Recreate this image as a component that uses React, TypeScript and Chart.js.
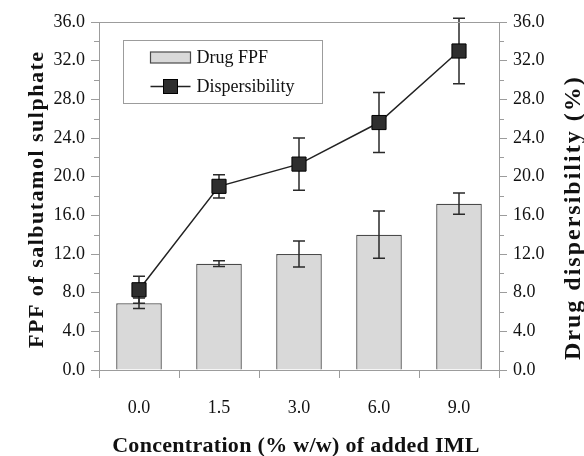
import React, { useEffect, useRef } from 'react';
import { Chart, registerables } from 'chart.js';

Chart.register(...registerables);

// ---- data ----
const categories = ['0.0', '1.5', '3.0', '6.0', '9.0'];
const fpfValues = [6.9, 11.0, 12.0, 14.0, 17.2];
const fpfErrors = [0.55, 0.3, 1.35, 2.45, 1.1];
const dispValues = [8.3, 19.0, 21.3, 25.6, 33.0];
const dispErrors = [1.4, 1.2, 2.7, 3.1, 3.4];
const yMin = 0;
const yMax = 36;
const yMajorStep = 4;
const yMinorStep = 2;
const seriesLabels = ['Drug FPF', 'Dispersibility'];
const xTitle = 'Concentration (% w/w) of added IML';
const yLeftTitle = 'FPF of salbutamol sulphate';
const yRightTitle = 'Drug dispersibility (%)';

// ---- styles ----
const SERIF = "'Liberation Serif', 'Times New Roman', serif";
const AXIS_COLOR = '#9c9c9c';
const INK = '#111111';
const BAR_FILL = '#d9d9d9';
const BAR_EDGE = '#4a4a4a';
const LINE_COLOR = '#222222';
const MARKER_FILL = '#2e2e2e';
const ERR_COLOR = '#2a2a2a';

function drawErrors(chart: any, index: number) {
  const ds = chart.data.datasets[index];
  const errs: number[] | undefined = ds.errors;
  if (!errs) return;
  const meta = chart.getDatasetMeta(index);
  const yScale = chart.scales[meta.yAxisID];
  const ctx: CanvasRenderingContext2D = chart.ctx;
  ctx.save();
  ctx.strokeStyle = ERR_COLOR;
  ctx.lineWidth = 1.5;
  meta.data.forEach((el: any, i: number) => {
    const v = ds.data[i];
    const e = errs[i];
    const x = el.x;
    const yt = yScale.getPixelForValue(v + e);
    const yb = yScale.getPixelForValue(v - e);
    ctx.beginPath();
    ctx.moveTo(x, yt);
    ctx.lineTo(x, yb);
    ctx.moveTo(x - 6, yt);
    ctx.lineTo(x + 6, yt);
    ctx.moveTo(x - 6, yb);
    ctx.lineTo(x + 6, yb);
    ctx.stroke();
  });
  ctx.restore();
}

const errorBarPlugin = {
  id: 'errorBars',
  beforeDatasetDraw(chart: any, args: any) {
    if (chart.data.datasets[args.index].errorsBehind) drawErrors(chart, args.index);
  },
  afterDatasetDraw(chart: any, args: any) {
    if (!chart.data.datasets[args.index].errorsBehind) drawErrors(chart, args.index);
  },
};

const decorPlugin = {
  id: 'decor',
  afterDraw(chart: any) {
    const ctx: CanvasRenderingContext2D = chart.ctx;
    const area = chart.chartArea;
    ctx.save();
    // top frame line
    ctx.strokeStyle = AXIS_COLOR;
    ctx.lineWidth = 1;
    ctx.beginPath();
    ctx.moveTo(area.left, Math.round(area.top) + 0.5);
    ctx.lineTo(area.right, Math.round(area.top) + 0.5);
    ctx.stroke();
    // minor ticks
    const yl = chart.scales.y;
    const yr = chart.scales.y2;
    ctx.beginPath();
    for (let v = yMin; v <= yMax; v += yMinorStep) {
      if (v % yMajorStep === 0) continue;
      const pl = Math.round(yl.getPixelForValue(v)) + 0.5;
      ctx.moveTo(yl.right - 5, pl);
      ctx.lineTo(yl.right, pl);
      const pr = Math.round(yr.getPixelForValue(v)) + 0.5;
      ctx.moveTo(yr.left, pr);
      ctx.lineTo(yr.left + 5, pr);
    }
    ctx.stroke();

    // axis titles
    ctx.fillStyle = INK;
    ctx.font = `bold 22px ${SERIF}`;
    (ctx as any).letterSpacing = '0.3px';
    ctx.textAlign = 'center';
    ctx.textBaseline = 'alphabetic';
    ctx.fillText(xTitle, (area.left + area.right) / 2 - 3, 452);

    ctx.save();
    (ctx as any).letterSpacing = '1.5px';
    ctx.translate(43, 348);
    ctx.rotate(-Math.PI / 2);
    ctx.textAlign = 'left';
    ctx.fillText(yLeftTitle, 0, 0);
    ctx.restore();

    ctx.save();
    ctx.font = `bold 24px ${SERIF}`;
    (ctx as any).letterSpacing = '2px';
    ctx.translate(580, 360);
    ctx.rotate(-Math.PI / 2);
    ctx.textAlign = 'left';
    ctx.fillText(yRightTitle, 0, 0);
    ctx.restore();

    // legend box
    (ctx as any).letterSpacing = '0px';
    const lx = area.left + 24.5;
    const ly = area.top + 18.5;
    const lw = 199;
    const lh = 63;
    ctx.fillStyle = '#ffffff';
    ctx.fillRect(lx, ly, lw, lh);
    ctx.strokeStyle = AXIS_COLOR;
    ctx.lineWidth = 1;
    ctx.strokeRect(lx, ly, lw, lh);

    const ds0 = chart.data.datasets[0];
    const ds1 = chart.data.datasets[1];
    const sx = lx + 27;
    const row1 = ly + 17;
    const row2 = ly + 46;
    ctx.fillStyle = ds0.backgroundColor;
    ctx.fillRect(sx, row1 - 5.5, 40, 11);
    ctx.strokeStyle = ds0.borderColor;
    ctx.lineWidth = 1.2;
    ctx.strokeRect(sx, row1 - 5.5, 40, 11);

    ctx.strokeStyle = ds1.borderColor;
    ctx.lineWidth = 1.5;
    ctx.beginPath();
    ctx.moveTo(sx, row2);
    ctx.lineTo(sx + 40, row2);
    ctx.stroke();
    ctx.fillStyle = ds1.pointBackgroundColor;
    ctx.fillRect(sx + 13, row2 - 7, 14, 14);
    ctx.strokeStyle = ds1.pointBorderColor;
    ctx.lineWidth = 1;
    ctx.strokeRect(sx + 13, row2 - 7, 14, 14);

    ctx.fillStyle = INK;
    ctx.font = `18px ${SERIF}`;
    ctx.textAlign = 'left';
    ctx.textBaseline = 'middle';
    ctx.fillText(ds0.label, sx + 46, row1 + 1);
    ctx.fillText(ds1.label, sx + 46, row2 + 1);
    ctx.restore();
  },
};

const tickFont = { family: SERIF, size: 18 };

export default function App() {
  const ref = useRef<HTMLCanvasElement>(null);
  useEffect(() => {
    document.body.style.margin = '0';
    const canvas = ref.current;
    if (!canvas) return;
    const chart = new Chart(canvas, {
      type: 'bar',
      data: {
        labels: categories,
        datasets: [
          {
            type: 'bar',
            label: seriesLabels[0],
            data: fpfValues,
            errors: fpfErrors,
            errorsBehind: false,
            backgroundColor: BAR_FILL,
            borderColor: BAR_EDGE,
            borderWidth: 1.3,
            categoryPercentage: 1,
            barPercentage: 0.57,
            yAxisID: 'y',
            order: 1,
          } as any,
          {
            type: 'line',
            label: seriesLabels[1],
            data: dispValues,
            errors: dispErrors,
            errorsBehind: true,
            borderColor: LINE_COLOR,
            borderWidth: 1.5,
            pointStyle: 'rect',
            pointRadius: 10,
            pointBackgroundColor: MARKER_FILL,
            pointBorderColor: '#000000',
            pointBorderWidth: 1,
            tension: 0,
            yAxisID: 'y2',
            order: 0,
          } as any,
        ],
      },
      options: {
        responsive: false,
        animation: false,
        devicePixelRatio: 1,
        layout: { padding: { top: 22, left: 0, right: 0, bottom: 0 } },
        plugins: {
          legend: { display: false },
          tooltip: { enabled: false },
        },
        scales: {
          x: {
            type: 'category',
            offset: true,
            grid: {
              offset: true,
              drawOnChartArea: false,
              tickLength: 8,
              color: AXIS_COLOR,
            },
            border: { color: AXIS_COLOR },
            ticks: { font: tickFont, color: INK, padding: 19, maxRotation: 0 },
            afterFit: (s: any) => {
              s.height = 86;
            },
          },
          y: {
            position: 'left',
            min: yMin,
            max: yMax,
            ticks: {
              stepSize: yMajorStep,
              font: tickFont,
              color: INK,
              padding: 6,
              callback: (v: any) => Number(v).toFixed(1),
            },
            grid: { drawOnChartArea: false, tickLength: 8, color: AXIS_COLOR },
            border: { color: AXIS_COLOR },
            afterFit: (s: any) => {
              s.width = 99;
            },
          },
          y2: {
            position: 'right',
            min: yMin,
            max: yMax,
            ticks: {
              stepSize: yMajorStep,
              font: tickFont,
              color: INK,
              padding: 6,
              callback: (v: any) => Number(v).toFixed(1),
            },
            grid: { drawOnChartArea: false, tickLength: 8, color: AXIS_COLOR },
            border: { color: AXIS_COLOR },
            afterFit: (s: any) => {
              s.width = 85;
            },
          },
        },
      } as any,
      plugins: [errorBarPlugin, decorPlugin],
    });
    return () => chart.destroy();
  }, []);
  return (
    <canvas
      ref={ref}
      width={584}
      height={456}
      style={{ display: 'block', width: 584, height: 456 }}
    />
  );
}
